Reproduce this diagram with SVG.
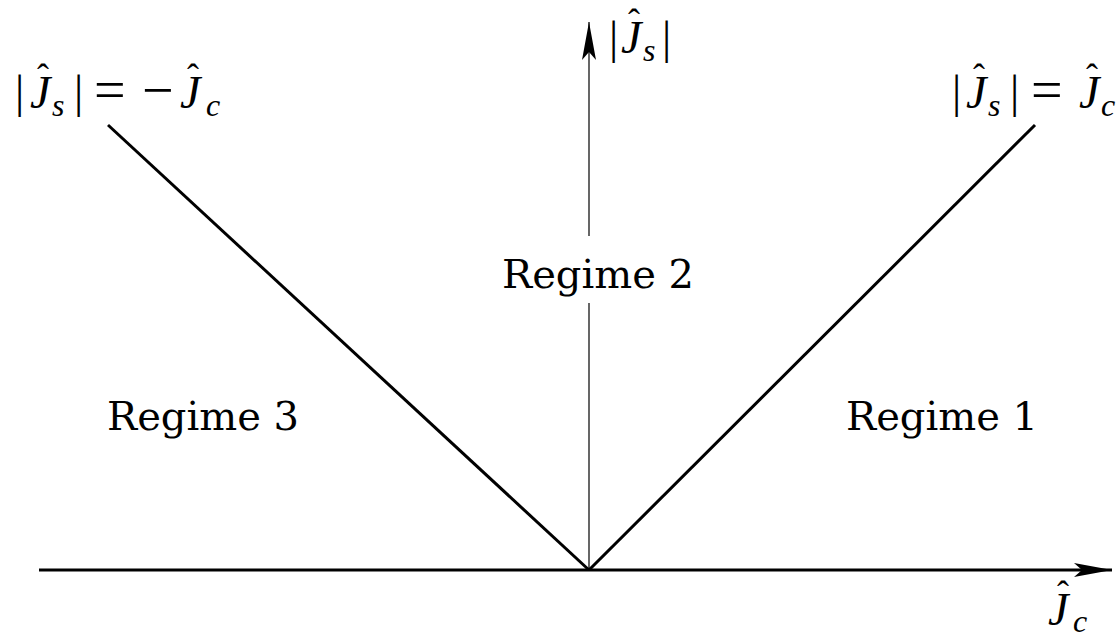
<svg xmlns="http://www.w3.org/2000/svg" width="1116" height="637" viewBox="0 0 1116 637">
<style>
.reg{font-family:"DejaVu Serif",serif;font-size:40px;fill:#000}
.math{font-family:"Liberation Serif","Times New Roman","Nimbus Roman","DejaVu Serif",serif;font-size:46px;fill:#000}
.op{font-size:56px}
.it{font-style:italic}
.hat{font-size:36px;font-style:normal}
.sub{font-size:32px;font-style:italic}
.thick{stroke:#000;stroke-width:3;fill:none}
.thin{stroke:#000;stroke-width:1.2;fill:none}
</style>
<defs>
<marker id="arr" viewBox="0 0 38 14" refX="38" refY="7" markerWidth="38" markerHeight="14" markerUnits="userSpaceOnUse" orient="auto">
<path d="M0,0 L38,7 L0,14 L8,7 Z" fill="#000"/>
</marker>
</defs>
<rect width="1116" height="637" fill="#fff"/>
<g id="connectors">
<line class="thick" x1="39" y1="570" x2="1112" y2="570" marker-end="url(#arr)"/>
<line class="thin" x1="589" y1="570" x2="589" y2="303"/>
<line class="thin" x1="589" y1="236" x2="589" y2="22" marker-end="url(#arr)"/>
<line class="thick" x1="589" y1="570" x2="108" y2="125"/>
<line class="thick" x1="589" y1="570" x2="1035" y2="125"/>
</g>
<g id="regime2"><text class="reg" x="598" y="288" text-anchor="middle">Regime 2</text></g>
<g id="regime3"><text class="reg" x="203" y="430" text-anchor="middle">Regime 3</text></g>
<g id="regime1"><text class="reg" x="942" y="430" text-anchor="middle">Regime 1</text></g>
<g id="label-left">
<text class="math"><tspan x="15" y="107">|</tspan><tspan class="it" x="30" y="108">J</tspan><tspan class="hat" x="37" y="89">ˆ</tspan><tspan class="sub" x="52" y="116">s</tspan><tspan x="74" y="107">|</tspan><tspan class="op" x="94" y="109">=</tspan><tspan class="op" x="142" y="109">−</tspan><tspan class="it" x="180" y="108">J</tspan><tspan class="hat" x="187" y="89">ˆ</tspan><tspan class="sub" x="206" y="116">c</tspan></text>
</g>
<g id="label-right">
<text class="math"><tspan x="952" y="107">|</tspan><tspan class="it" x="966" y="108">J</tspan><tspan class="hat" x="973" y="89">ˆ</tspan><tspan class="sub" x="988" y="116">s</tspan><tspan x="1010" y="107">|</tspan><tspan class="op" x="1031" y="109">=</tspan><tspan class="it" x="1079" y="108">J</tspan><tspan class="hat" x="1086" y="89">ˆ</tspan><tspan class="sub" x="1101" y="116">c</tspan></text>
</g>
<g id="label-top">
<text class="math"><tspan x="609" y="53">|</tspan><tspan class="it" x="621" y="53">J</tspan><tspan class="hat" x="628" y="34">ˆ</tspan><tspan class="sub" x="643" y="61">s</tspan><tspan x="662" y="53">|</tspan></text>
</g>
<g id="label-xaxis">
<text class="math"><tspan class="it" x="1048" y="625">J</tspan><tspan class="hat" x="1057" y="606">ˆ</tspan><tspan class="sub" x="1073" y="632">c</tspan></text>
</g>
</svg>
